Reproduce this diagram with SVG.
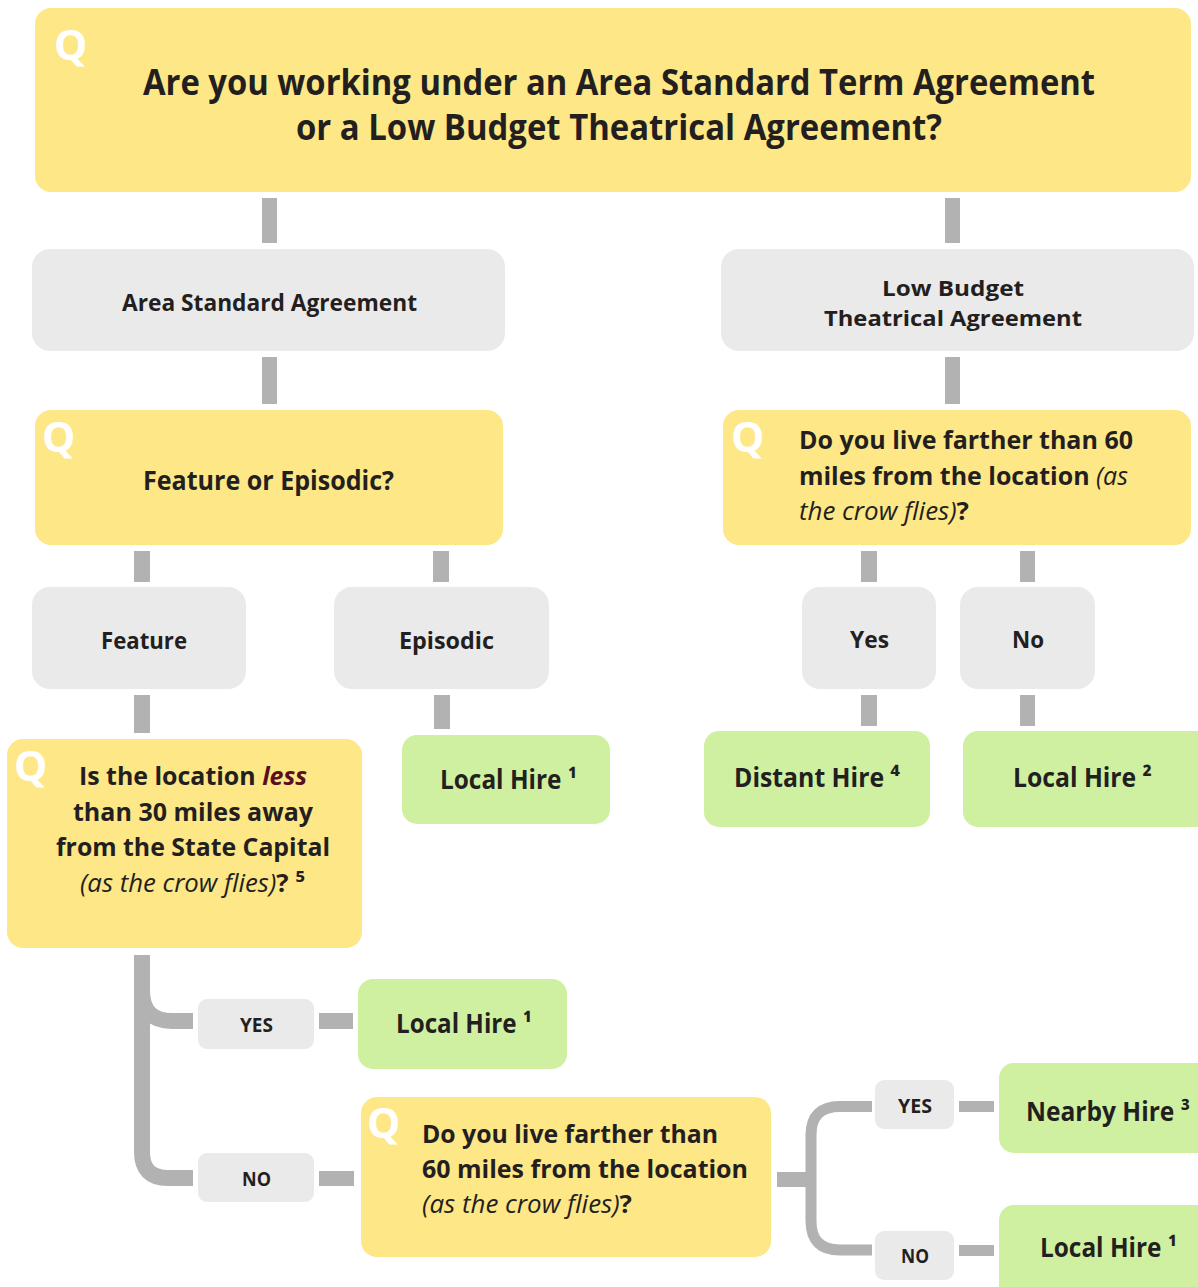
<svg xmlns="http://www.w3.org/2000/svg" width="1198" height="1287" viewBox="0 0 1198 1287">
<style>
.q{fill:#FEE786}
.g{fill:#EAEAEA}
.h{fill:#CFF0A0}
.c{fill:#B2B2B2}
.cs{fill:none;stroke:#B2B2B2}
text{font-family:"Open Sans","Liberation Sans",sans-serif;font-weight:700;fill:#231F20}
.ql{font-weight:700;fill:#FFFFFF;font-size:42px}
.i{font-style:italic;font-weight:400}
</style>
<rect width="1198" height="1287" fill="#FFFFFF"/>
<g id="connectors">
<rect class="c" x="262" y="198" width="15" height="45"/>
<rect class="c" x="945" y="198" width="15" height="45"/>
<rect class="c" x="262" y="357" width="15" height="47"/>
<rect class="c" x="945" y="357" width="15" height="47"/>
<rect class="c" x="134" y="551" width="16" height="31"/>
<rect class="c" x="433" y="551" width="16" height="31"/>
<rect class="c" x="861" y="551" width="16" height="31"/>
<rect class="c" x="1020" y="551" width="15" height="31"/>
<rect class="c" x="134" y="695" width="16" height="38"/>
<rect class="c" x="434" y="695" width="16" height="34"/>
<rect class="c" x="861" y="695" width="16" height="31"/>
<rect class="c" x="1020" y="695" width="15" height="31"/>
<path class="cs" stroke-width="16" d="M142,955 V1152 Q142,1178 168,1178 H193"/>
<path class="cs" stroke-width="16" d="M142,990 Q142,1021 172,1021 H193"/>
<rect class="c" x="319" y="1013" width="34" height="16"/>
<rect class="c" x="319" y="1171" width="35" height="15"/>
<rect class="c" x="777" y="1172" width="30" height="15"/>
<path class="cs" stroke-width="11" d="M872,1106.5 H840 Q811,1106.5 811,1135 V1221 Q811,1250 840,1250 H872"/>
<rect class="c" x="959" y="1101" width="35" height="11"/>
<rect class="c" x="959" y="1245" width="35" height="11"/>
</g>
<g id="q-agreement">
<rect class="q" x="35" y="8" width="1156" height="184" rx="16"/>
<text class="ql" x="54" y="60">Q</text>
<text x="143" y="95" font-size="35" textLength="952" lengthAdjust="spacingAndGlyphs">Are you working under an Area Standard Term Agreement</text>
<text x="296" y="140" font-size="35" textLength="646" lengthAdjust="spacingAndGlyphs">or a Low Budget Theatrical Agreement?</text>
</g>
<g id="area-standard">
<rect class="g" x="32" y="249" width="473" height="102" rx="18"/>
<text x="122" y="311" font-size="24" textLength="295" lengthAdjust="spacingAndGlyphs">Area Standard Agreement</text>
</g>
<g id="low-budget">
<rect class="g" x="721" y="249" width="473" height="102" rx="18"/>
<text x="882" y="296" font-size="22" textLength="142" lengthAdjust="spacingAndGlyphs">Low Budget</text>
<text x="824" y="326" font-size="22" textLength="258" lengthAdjust="spacingAndGlyphs">Theatrical Agreement</text>
</g>
<g id="q-feature-episodic">
<rect class="q" x="35" y="410" width="468" height="135" rx="16"/>
<text class="ql" x="42" y="452">Q</text>
<text x="143" y="490" font-size="26" textLength="251" lengthAdjust="spacingAndGlyphs">Feature or Episodic?</text>
</g>
<g id="q-live-farther-lb">
<rect class="q" x="723" y="410" width="468" height="135" rx="16"/>
<text class="ql" x="731" y="452">Q</text>
<text x="799" y="449" font-size="25" textLength="334" lengthAdjust="spacingAndGlyphs">Do you live farther than 60</text>
<text x="799" y="485" font-size="25" textLength="329" lengthAdjust="spacingAndGlyphs">miles from the location <tspan class="i">(as</tspan></text>
<text x="799" y="520" font-size="25" textLength="170" lengthAdjust="spacingAndGlyphs"><tspan class="i">the crow flies)</tspan>?</text>
</g>
<g id="feature">
<rect class="g" x="32" y="587" width="214" height="102" rx="18"/>
<text x="101" y="649" font-size="24" textLength="86" lengthAdjust="spacingAndGlyphs">Feature</text>
</g>
<g id="episodic">
<rect class="g" x="334" y="587" width="215" height="102" rx="18"/>
<text x="399" y="649" font-size="24" textLength="95" lengthAdjust="spacingAndGlyphs">Episodic</text>
</g>
<g id="yes-lb">
<rect class="g" x="802" y="587" width="134" height="102" rx="18"/>
<text x="850" y="648" font-size="24" textLength="39" lengthAdjust="spacingAndGlyphs">Yes</text>
</g>
<g id="no-lb">
<rect class="g" x="960" y="587" width="135" height="102" rx="18"/>
<text x="1012" y="648" font-size="24" textLength="32" lengthAdjust="spacingAndGlyphs">No</text>
</g>
<g id="local-hire-episodic">
<rect class="h" x="402" y="735" width="208" height="89" rx="15"/>
<text x="440" y="789" font-size="26" textLength="137" lengthAdjust="spacingAndGlyphs">Local Hire ¹</text>
</g>
<g id="distant-hire">
<rect class="h" x="704" y="731" width="226" height="96" rx="15"/>
<text x="734" y="787" font-size="26" textLength="166" lengthAdjust="spacingAndGlyphs">Distant Hire ⁴</text>
</g>
<g id="local-hire-lb">
<rect class="h" x="963" y="731" width="250" height="96" rx="15"/>
<text x="1013" y="787" font-size="26" textLength="139" lengthAdjust="spacingAndGlyphs">Local Hire ²</text>
</g>
<g id="q-state-capital">
<rect class="q" x="7" y="739" width="355" height="209" rx="16"/>
<text class="ql" x="14" y="781">Q</text>
<text x="79" y="785" font-size="25" textLength="228" lengthAdjust="spacingAndGlyphs">Is the location <tspan font-style="italic" font-weight="700" fill="#5B0E1E">less</tspan></text>
<text x="73" y="821" font-size="25" textLength="240" lengthAdjust="spacingAndGlyphs">than 30 miles away</text>
<text x="56" y="856" font-size="25" textLength="274" lengthAdjust="spacingAndGlyphs">from the State Capital</text>
<text x="80" y="892" font-size="25" textLength="225" lengthAdjust="spacingAndGlyphs"><tspan class="i">(as the crow flies)</tspan>? ⁵</text>
</g>
<g id="yes-1">
<rect class="g" x="198" y="999" width="116" height="50" rx="9"/>
<text x="240" y="1032" font-size="19" textLength="33" lengthAdjust="spacingAndGlyphs">YES</text>
</g>
<g id="local-hire-yes">
<rect class="h" x="358" y="979" width="209" height="90" rx="15"/>
<text x="396" y="1033" font-size="26" textLength="136" lengthAdjust="spacingAndGlyphs">Local Hire ¹</text>
</g>
<g id="no-1">
<rect class="g" x="198" y="1153" width="116" height="49" rx="9"/>
<text x="242" y="1186" font-size="19" textLength="29" lengthAdjust="spacingAndGlyphs">NO</text>
</g>
<g id="q-live-farther">
<rect class="q" x="361" y="1097" width="410" height="160" rx="16"/>
<text class="ql" x="367" y="1138">Q</text>
<text x="422" y="1143" font-size="25" textLength="296" lengthAdjust="spacingAndGlyphs">Do you live farther than</text>
<text x="422" y="1178" font-size="25" textLength="326" lengthAdjust="spacingAndGlyphs">60 miles from the location</text>
<text x="422" y="1213" font-size="25" textLength="210" lengthAdjust="spacingAndGlyphs"><tspan class="i">(as the crow flies)</tspan>?</text>
</g>
<g id="yes-2">
<rect class="g" x="875" y="1080" width="79" height="49" rx="9"/>
<text x="898" y="1113" font-size="19" textLength="34" lengthAdjust="spacingAndGlyphs">YES</text>
</g>
<g id="nearby-hire">
<rect class="h" x="999" y="1063" width="220" height="90" rx="15"/>
<text x="1026" y="1121" font-size="26" textLength="164" lengthAdjust="spacingAndGlyphs">Nearby Hire ³</text>
</g>
<g id="no-2">
<rect class="g" x="875" y="1231" width="79" height="49" rx="9"/>
<text x="901" y="1263" font-size="19" textLength="28" lengthAdjust="spacingAndGlyphs">NO</text>
</g>
<g id="local-hire-no">
<rect class="h" x="999" y="1205" width="220" height="100" rx="15"/>
<text x="1040" y="1257" font-size="26" textLength="137" lengthAdjust="spacingAndGlyphs">Local Hire ¹</text>
</g>
</svg>
